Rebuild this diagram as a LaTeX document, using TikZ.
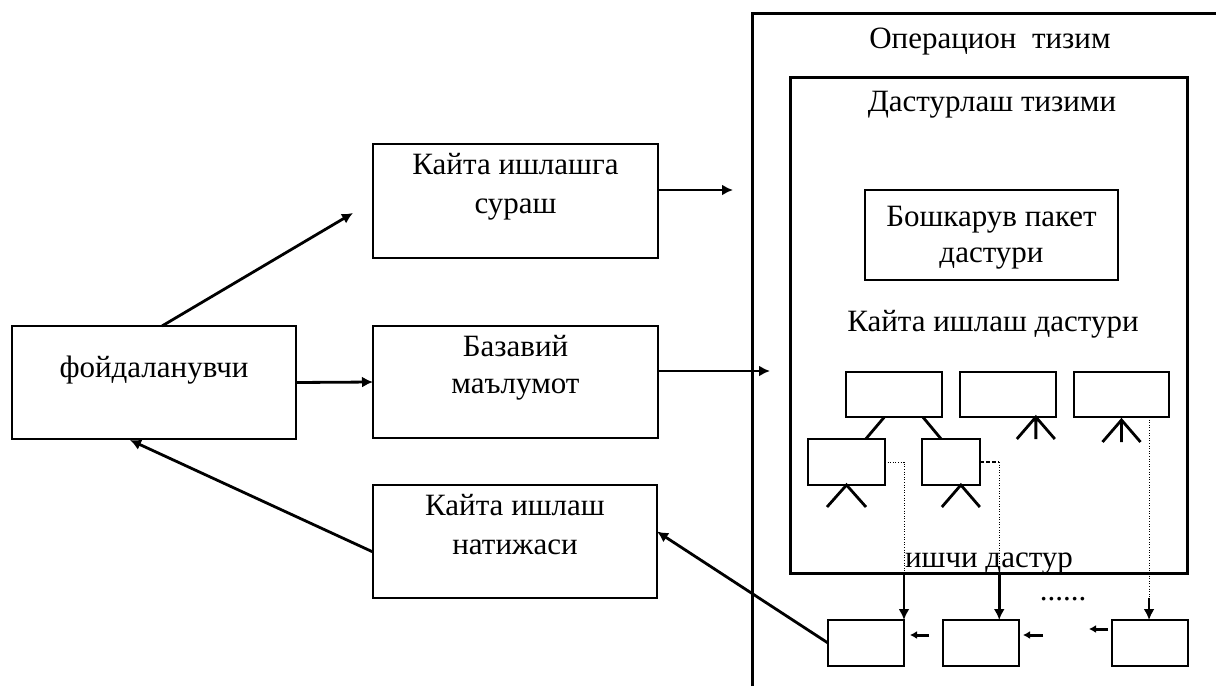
\documentclass[tikz,border=0pt]{standalone}
\usepackage{fontspec}
\setmainfont{Liberation Serif}
\usetikzlibrary{arrows.meta,calc}
\begin{document}
\begin{tikzpicture}[x=0.5pt,y=-0.5pt,
  box/.style 2 args={draw,line width=1pt,inner sep=0pt,outer sep=0pt,minimum width=#1*0.5pt,minimum height=#2*0.5pt},
  bigbox/.style 2 args={draw,line width=1.5pt,inner sep=0pt,outer sep=0pt,minimum width=#1*0.5pt,minimum height=#2*0.5pt},
  txt/.style={anchor=base,inner sep=0pt,font=\fontsize{15.5}{19}\selectfont},
  arr/.style={line width=1.4pt,-{Latex[length=5.5pt,width=5.5pt]}},
  sarr/.style={line width=1.5pt,-{Latex[length=3.5pt,width=4pt]}},
  tree/.style={line width=1.4pt},
  dotline/.style={line width=0.5pt,dash pattern=on 0.5pt off 0.8pt},
  dashline/.style={line width=0.6pt,dash pattern=on 2pt off 1pt}]
\useasboundingbox (0,0) rectangle (1216,686);
% outer frame (open)
\coordinate (oa) at (752,686);
\coordinate (ob) at (752,13);
\coordinate (oc) at (1216,13);
\draw[line width=1.5pt] (oa) -- (ob) -- (oc);
% left boxes
\node[box={284}{113}] (user) at (154,382.5) {};
\node[box={285}{114}] (req) at (515.5,201) {};
\node[box={285}{112}] (base) at (515.5,382) {};
\node[box={284}{113}] (res) at (515,541.5) {};
% inner system
\node[bigbox={397}{496}] (inner) at (988.5,325) {};
\node[box={253}{90}] (boss) at (991.5,235) {};
% small boxes
\node[box={96}{45}] (A) at (894,394.5) {};
\node[box={96}{45}] (B) at (1008,394.5) {};
\node[box={95}{45}] (C) at (1121.5,394.5) {};
\node[box={77}{46}] (D) at (846.5,462) {};
\node[box={58}{46}] (E) at (951,462) {};
\node[box={76}{46}] (F) at (866,643) {};
\node[box={76}{46}] (G) at (981,643) {};
\node[box={76}{46}] (H) at (1150,643) {};
% texts
\node[txt] (tOS) at (990,48) {Операцион\ \ тизим};
\node[txt] (tPS) at (992,111) {Дастурлаш тизими};
\node[txt] (tB1) at (991.5,226) {Бошкарув пакет};
\node[txt] (tB2) at (991.5,262) {дастури};
\node[txt] (tKD) at (993,331) {Кайта ишлаш дастури};
\node[txt] (tU) at (154,377) {фойдаланувчи};
\node[txt] (tR1) at (515.5,174) {Кайта ишлашга};
\node[txt] (tR2) at (515.5,213) {сураш};
\node[txt] (tBa1) at (515.5,356) {Базавий};
\node[txt] (tBa2) at (515.5,393) {маълумот};
\node[txt] (tN1) at (515,515) {Кайта ишлаш};
\node[txt] (tN2) at (515,554) {натижаси};
\node[txt] (tW) at (989,567) {ишчи дастур};
\node[txt] (dots) at (1063,600) {......};
% trees
\draw[tree] ($(A.south west)!0.4!(A.south east)$) -- ($(D.north west)!0.75!(D.north east)$);
\draw[tree] ($(A.south west)!0.8!(A.south east)$) -- ($(E.north west)!0.33!(E.north east)$);
\coordinate (bt) at ($(B.south west)!0.79!(B.south east)$);
\draw[tree] ($(bt)+(-19,22)$) -- (bt) -- ($(bt)+(19,22)$) (bt) -- ++(0,22);
\coordinate (ct) at ($(C.south)+(0,3)$);
\draw[tree] ($(ct)+(-19,22)$) -- (ct) -- ($(ct)+(19,22)$) (ct) -- ++(0,22);
\coordinate (dt) at (D.south);
\draw[tree] ($(dt)+(-19.5,22)$) -- (dt) -- ($(dt)+(19.5,22)$);
\coordinate (et) at ($(E.south west)!0.67!(E.south east)$);
\draw[tree] ($(et)+(-19,22)$) -- (et) -- ($(et)+(19,22)$);
% dotted links to working programs
\draw[dotline] (D.east) -| (F.north east |- inner.south);
\draw[arr] (F.north east |- inner.south) -- (F.north east);
\coordinate (gt) at ($(G.north west)!0.74!(G.north east)$);
\draw[dashline] (E.east) -- (E.east -| gt);
\draw[dotline] (E.east -| gt) -- (gt |- inner.south);
\draw[arr] (gt |- inner.south) -- (gt);
\coordinate (cb) at ($(C.south west)!0.79!(C.south east)$);
\coordinate (hb) at (cb |- H.north);
\draw[dotline] (cb) -- ($(hb)+(0,-22)$);
\draw[arr] ($(hb)+(0,-22)$) -- (hb);
% small left arrows
\draw[sarr] ($(G.west)+(-14,-8)$) -- ($(F.east)+(6,-8)$);
\draw[sarr] ($(G.east)+(24,-8)$) -- ($(G.east)+(4,-8)$);
\draw[sarr] ($(H.west)+(-4,-14)$) -- ($(H.west)+(-23,-14)$);
% main arrows
\draw[arr] ($(user.north)+(8,0)$) -- ($(req.west)+(-20,12)$);
\draw[arr] (user.east) -- (base.west);
\draw[arr] ($(req.east)+(0,-11)$) -- ++(75,0);
\draw[arr] ($(base.east)+(0,-11)$) -- ++(112,0);
\draw[arr] (F.west) -- ($(res.east)+(0,-10)$);
\draw[arr] ($(res.west)+(0,10.5)$) -- ($(user.south)+(-24,1)$);
\end{tikzpicture}
\end{document}
